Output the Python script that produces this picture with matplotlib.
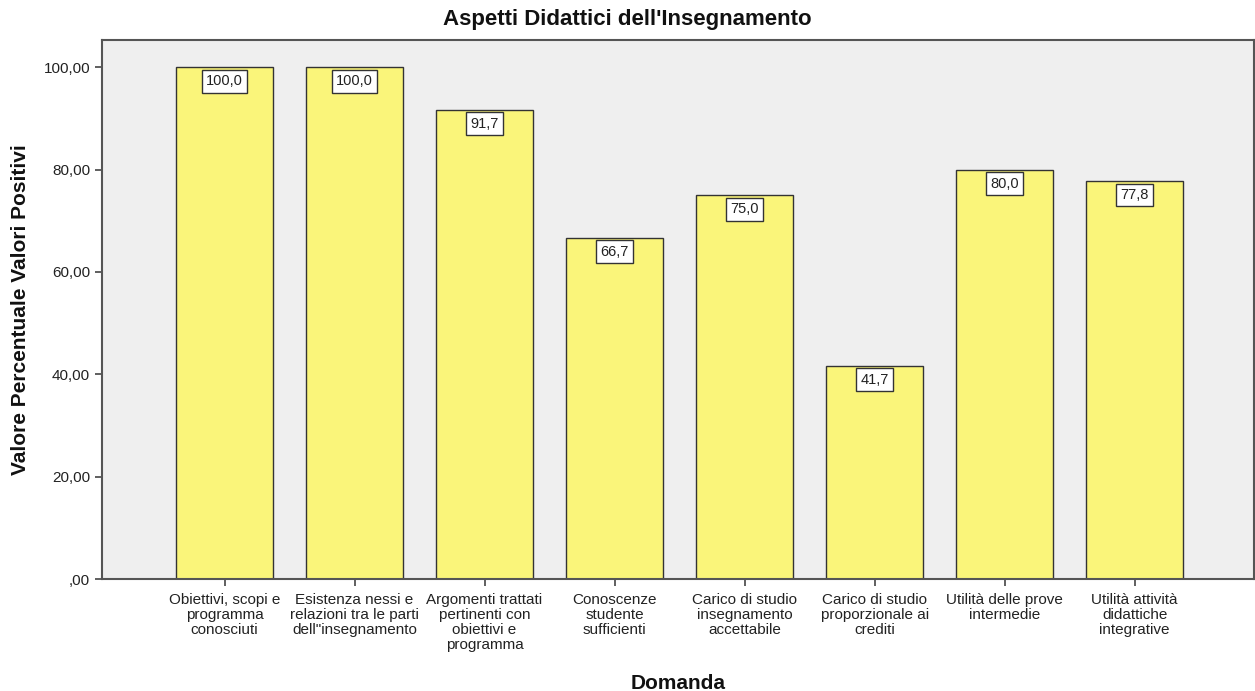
import matplotlib.pyplot as plt
import numpy as np

plt.rcParams['font.family'] = ['Liberation Sans', 'DejaVu Sans']

domande = ["Obiettivi, scopi e\nprogramma\nconosciuti",
           "Esistenza nessi e\nrelazioni tra le parti\ndell\"insegnamento",
           "Argomenti trattati\npertinenti con\nobiettivi e\nprogramma",
           "Conoscenze\nstudente\nsufficienti",
           "Carico di studio\ninsegnamento\naccettabile",
           "Carico di studio\nproporzionale ai\ncrediti",
           "Utilità delle prove\nintermedie",
           "Utilità attività\ndidattiche\nintegrative"]
valori = [100.0, 100.0, 91.7, 66.7, 75.0, 41.7, 80.0, 77.8]
yticks = [0, 20, 40, 60, 80, 100]
ytick_labels = [",00", "20,00", "40,00", "60,00", "80,00", "100,00"]

fig = plt.figure(figsize=(12.55, 6.91), dpi=100)
ax = fig.add_axes([0.0813, 0.162, 0.918, 0.780])
ax.set_facecolor('#efefef')

x = np.arange(len(valori))
ax.bar(x, valori, width=0.746, color='#faf57a', edgecolor='#333333', linewidth=1.0, zorder=2)

# etichette dei valori dentro la barra
for xi, v in zip(x, valori):
    ax.text(xi, v - 1.4, f"{v:.1f}".replace('.', ','), ha='center', va='top', fontsize=10.5,
            color='#222222', zorder=3,
            bbox=dict(boxstyle='square,pad=0.3', facecolor='white', edgecolor='#333333', linewidth=1.0))

ax.set_xlim(-0.942, 7.919)
ax.set_ylim(0, 105.3)
ax.set_xticks(x)
ax.set_xticklabels(domande, fontsize=11, linespacing=1.08, color='#222222')
ax.set_yticks(yticks)
ax.set_yticklabels(ytick_labels, fontsize=11, color='#222222')
ax.tick_params(axis='both', length=5, width=1.2, color='#444444')
ax.tick_params(axis='x', pad=5)

for s in ax.spines.values():
    s.set_color('#555555')
    s.set_linewidth(1.5)

fig.suptitle("Aspetti Didattici dell'Insegnamento", x=0.5, y=1 - 20 / 691, va='center',
             fontsize=16, fontweight='bold', color='#111111')
ax.set_xlabel("Domanda", fontsize=15, fontweight='bold', labelpad=16, color='#111111')
ax.set_ylabel("Valore Percentuale Valori Positivi", fontsize=15, fontweight='bold', labelpad=10,
              color='#111111')

fig.savefig('out.png', dpi=100)
